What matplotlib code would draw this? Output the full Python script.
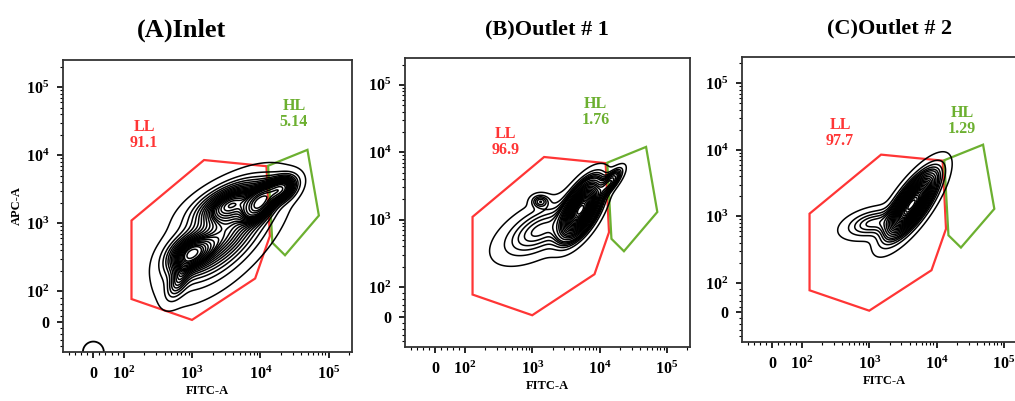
import numpy as np
import matplotlib
import matplotlib.pyplot as plt
import matplotlib.ticker as mticker

matplotlib.use("Agg")

plt.rcParams.update({
    "font.family": "Liberation Serif",
    "font.weight": "bold",
    "axes.labelweight": "bold",
    "mathtext.fontset": "custom",
    "mathtext.rm": "Liberation Serif:bold",
    "mathtext.it": "Liberation Serif:bold",
    "mathtext.bf": "Liberation Serif:bold",
})

# ---------------------------------------------------------------------------
# Data
# ---------------------------------------------------------------------------
titles = ["(A)Inlet", "(B)Outlet # 1", "(C)Outlet # 2"]
title_sizes = [19, 16, 16]

ll_values = ["91.1", "96.9", "97.7"]
hl_values = ["5.14", "1.76", "1.29"]
ll_label_x = [200, 400, 370]
ll_label_y = [20000, 14000, 18000]
hl_label_x = [31000, 8700, 24000]
hl_label_y = [40000, 40000, 27000]

# gate polygons (same template for all three samples)
ll_gate_x = [130, 130, 1000, 8400, 13800, 12300, 1500]
ll_gate_y = [1100, 75, 6, 155, 650, 6900, 8500]
hl_gate_x = [13000, 49000, 72000, 23000, 15000]
hl_gate_y = [7000, 12000, 1300, 340, 520]

# cell populations, in decades of the display scale (10^k -> k):
# centre x, centre y, angle of long axis (deg), spread along, spread across,
# fraction of events
a_cx = [3.45, 2.95, 3.55, 4.0, 4.3, 2.8]
a_cy = [2.8, 2.55, 3.3, 3.3, 3.5, 2.15]
a_ang = [45, 35, 25, 50, 35, 65]
a_sa = [0.52, 0.22, 0.35, 0.18, 0.14, 0.18]
a_sc = [0.24, 0.15, 0.15, 0.1, 0.09, 0.08]
a_w = [0.45, 0.13, 0.2, 0.14, 0.08, 0.025]

b_cx = [3.72, 3.12, 3.12, 4.15]
b_cy = [3.15, 2.85, 3.27, 3.55]
b_ang = [60, 30, 0, 50]
b_sa = [0.25, 0.38, 0.08, 0.14]
b_sc = [0.11, 0.18, 0.06, 0.05]
b_w = [0.73, 0.19, 0.011, 0.04]

c_cx = [3.63, 3.05]
c_cy = [3.18, 2.9]
c_ang = [55, 15]
c_sa = [0.32, 0.24]
c_sc = [0.11, 0.11]
c_w = [0.86, 0.1]

# small debris population sitting on the origin of the inlet plot
debris_x = [0]
debris_y = [-100]

components = [
    (a_cx, a_cy, a_ang, a_sa, a_sc, a_w),
    (b_cx, b_cy, b_ang, b_sa, b_sc, b_w),
    (c_cx, c_cy, c_ang, c_sa, c_sc, c_w),
]
n_levels = [25, 26, 24]

# ---------------------------------------------------------------------------
# Style / layout
# ---------------------------------------------------------------------------
LINTHRESH = 100
LINSCALE = 0.4
L_DEC = LINSCALE / 0.9
RED = "#ff3535"
GREEN = "#6cb030"
W, H = 1015, 401
axes_px = [(63, 60, 289, 292), (405, 58, 285, 289), (742, 57, 285, 285)]
title_px = [(181, 30), (547, 29), (890, 28)]


def _to_value(u):
    """decade coordinate -> data value on the symlog axis"""
    return np.where(u >= 2, 10.0 ** u, LINTHRESH * (1 - (2 - u) / L_DEC))


def _to_dec(v):
    v = np.asarray(v, dtype=float)
    return np.where(v >= LINTHRESH, np.log10(np.maximum(v, 1e-9)),
                    2 - (1 - v / LINTHRESH) * L_DEC)


def _density(comp, ux, uy):
    z = np.zeros_like(ux)
    for cx, cy, ang, sa, sc, w in zip(*comp):
        t = np.deg2rad(ang)
        dx, dy = ux - cx, uy - cy
        a = (dx * np.cos(t) + dy * np.sin(t)) / sa
        c = (-dx * np.sin(t) + dy * np.cos(t)) / sc
        z += w / (2 * np.pi * sa * sc) * np.exp(-0.5 * (a * a + c * c))
    return z


def _prob_levels(z, n):
    """equal-probability contour levels (each band holds the same share of events)"""
    zs = np.sort(z.ravel())[::-1]
    cum = np.cumsum(zs) / zs.sum()
    mass = np.linspace(0.03, 0.985, n)
    lv = zs[np.searchsorted(cum, mass)]
    return np.unique(lv)


minor_ticks = [-80, -60, -40, -20, 20, 40, 60, 80]
for k in range(2, 6):
    minor_ticks += [s * 10 ** k for s in range(2, 10)]

fig = plt.figure(figsize=(W / 100, H / 100), dpi=100)

u = np.linspace(2 - 2 * L_DEC, 5.4, 450)
UX, UY = np.meshgrid(u, u)
VX, VY = _to_value(UX), _to_value(UY)

for i in range(3):
    x0, y0, w, h = axes_px[i]
    ax = fig.add_axes([x0 / W, 1 - (y0 + h) / H, w / W, h / H])
    ax.set_xscale("symlog", linthresh=LINTHRESH, linscale=LINSCALE)
    ax.set_yscale("symlog", linthresh=LINTHRESH, linscale=LINSCALE)

    z = _density(components[i], UX, UY)
    ax.contour(VX, VY, z, levels=_prob_levels(z, n_levels[i]),
               colors="black", linewidths=1.1)

    if i == 0:
        dx0, dy0 = _to_dec(debris_x), _to_dec(debris_y)
        blob = np.exp(-((UX - dx0[0]) ** 2 + (UY - dy0[0]) ** 2) / (2 * 0.13 ** 2))
        ax.contour(VX, VY, blob, levels=[0.5], colors="black", linewidths=1.3)

    ax.fill(ll_gate_x, ll_gate_y, fill=False, edgecolor=RED, lw=1.6)
    ax.fill(hl_gate_x, hl_gate_y, fill=False, edgecolor=GREEN, lw=1.6)
    ax.text(ll_label_x[i], ll_label_y[i], "LL\n" + ll_values[i], color=RED,
            ha="center", va="center", fontsize=11.5, linespacing=1.0)
    ax.text(hl_label_x[i], hl_label_y[i], "HL\n" + hl_values[i], color=GREEN,
            ha="center", va="center", fontsize=11.5, linespacing=1.0)

    ax.set_xlim(-100, 2.2e5)
    ax.set_ylim(-100, 2.5e5)
    major = [0, 1e2, 1e3, 1e4, 1e5]
    labels = ["0", "$10^2$", "$10^3$", "$10^4$", "$10^5$"]
    for axis in (ax.xaxis, ax.yaxis):
        axis.set_major_locator(mticker.FixedLocator(major))
        axis.set_major_formatter(mticker.FixedFormatter(labels))
        axis.set_minor_locator(mticker.FixedLocator(minor_ticks))
    ax.tick_params(which="major", length=4, width=1.2, labelsize=11.5, pad=6)
    ax.tick_params(which="minor", length=2.5, width=0.8)
    for sp in ax.spines.values():
        sp.set_linewidth(1.3)
        sp.set_color("#333333")

    ax.set_xlabel("FITC-A", fontsize=9, fontweight="bold", labelpad=1)
    if i == 0:
        ax.set_ylabel("APC-A", fontsize=9, fontweight="bold", labelpad=2)

    tx, ty = title_px[i]
    fig.text(tx / W, 1 - ty / H, titles[i], ha="center", va="center",
             fontsize=title_sizes[i], fontweight="bold")

fig.savefig("out.png", dpi=100)
